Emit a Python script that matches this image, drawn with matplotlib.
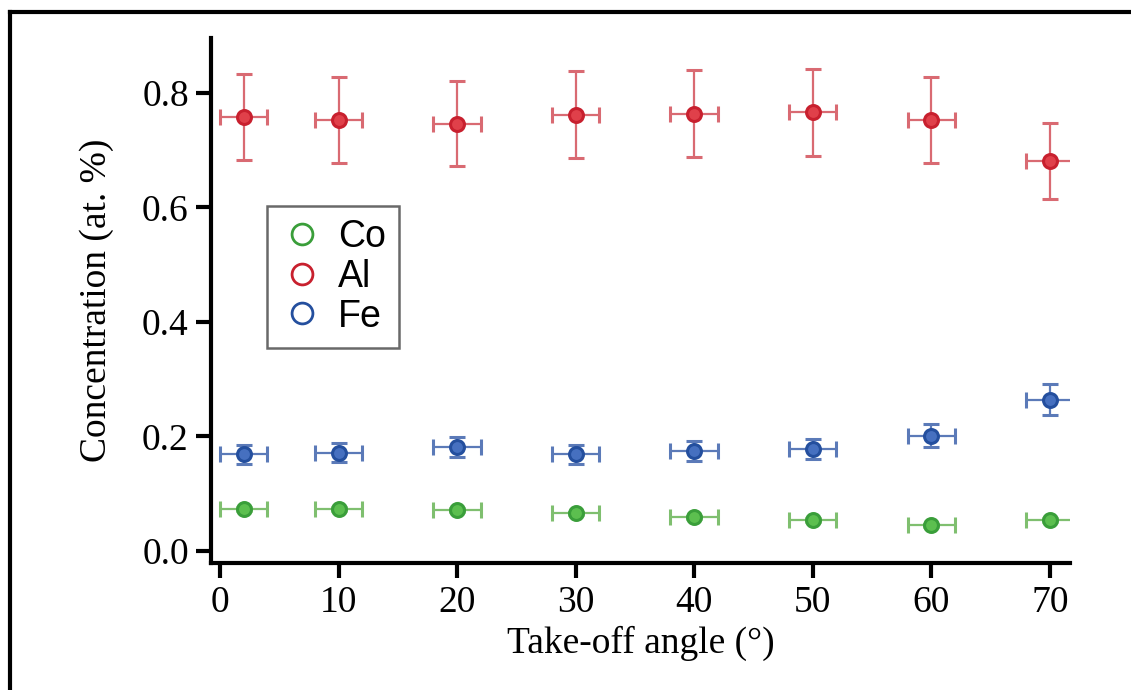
import numpy as np
import matplotlib
matplotlib.use("Agg")
import matplotlib.pyplot as plt
from matplotlib.lines import Line2D

angles = [2, 10, 20, 30, 40, 50, 60, 70]
angle_err = [2, 2, 2, 2, 2, 2, 2, 2]

co = [0.073, 0.073, 0.072, 0.066, 0.059, 0.054, 0.045, 0.054]
co_err = [0.003, 0.003, 0.003, 0.003, 0.003, 0.003, 0.003, 0.003]

al = [0.758, 0.753, 0.746, 0.762, 0.764, 0.766, 0.753, 0.681]
al_err = [0.075, 0.075, 0.074, 0.076, 0.076, 0.076, 0.075, 0.067]

fe = [0.169, 0.172, 0.182, 0.169, 0.175, 0.178, 0.201, 0.264]
fe_err = [0.017, 0.017, 0.017, 0.017, 0.017, 0.017, 0.020, 0.027]

series = [("Co", co, co_err, "#3a9e3a", "#5cbf4f", "#7fbf6f"),
          ("Al", al, al_err, "#c8202e", "#e0404a", "#d96a72"),
          ("Fe", fe, fe_err, "#244f9e", "#4670c0", "#5b7ab8")]

serif = ["Liberation Serif", "DejaVu Serif"]
sans = ["Liberation Sans", "DejaVu Sans"]

fig = plt.figure(figsize=(11.31, 6.90), dpi=100)
ax = fig.add_axes([0.1866, 0.184, 0.7594, 0.761])

for name, vals, errs, edge, face, ecol in series:
    ax.errorbar(angles, vals, xerr=angle_err, yerr=errs, fmt="o", ms=10,
                mfc=face, mec=edge, mew=2.2, ecolor=ecol, elinewidth=1.6,
                capsize=6, capthick=1.6, zorder=3)

ax.set_xlim(-0.76, 71.7)
ax.set_ylim(-0.021, 0.896)
ax.set_xticks([0, 10, 20, 30, 40, 50, 60, 70])
ax.set_yticks([0.0, 0.2, 0.4, 0.6, 0.8])
ax.set_yticklabels(["0.0", "0.2", "0.4", "0.6", "0.8"])

for s in ["top", "right"]:
    ax.spines[s].set_visible(False)
for s in ["left", "bottom"]:
    ax.spines[s].set_linewidth(3)
ax.tick_params(axis="both", direction="out", length=11, width=3, labelsize=27, pad=5)
for lab in ax.get_xticklabels() + ax.get_yticklabels():
    lab.set_family(serif)

ax.set_xlabel("Take-off angle (°)", fontsize=27, family=serif, labelpad=4)
ax.set_ylabel("Concentration (at. %)", fontsize=27, family=serif, labelpad=20)

handles = [Line2D([], [], ls="none", marker="o", ms=15, mfc="none", mec=s[3], mew=2)
           for s in series]
leg = ax.legend(handles, [s[0] for s in series], loc="upper left",
                bbox_to_anchor=(0.065, 0.680), borderaxespad=0,
                prop={"family": sans, "size": 27},
                frameon=True, fancybox=False, edgecolor="#444444",
                handletextpad=0.35, labelspacing=0.1, borderpad=0.35,
                handlelength=1.2)
leg.get_frame().set_linewidth(1.8)

# outer frame of the picture
fig.add_artist(Line2D([0.009, 1.0], [0.983, 0.983], transform=fig.transFigure,
                      color="black", lw=3))
fig.add_artist(Line2D([0.009, 0.009], [0.0, 0.983], transform=fig.transFigure,
                      color="black", lw=3))

fig.savefig("out.png", dpi=100)
